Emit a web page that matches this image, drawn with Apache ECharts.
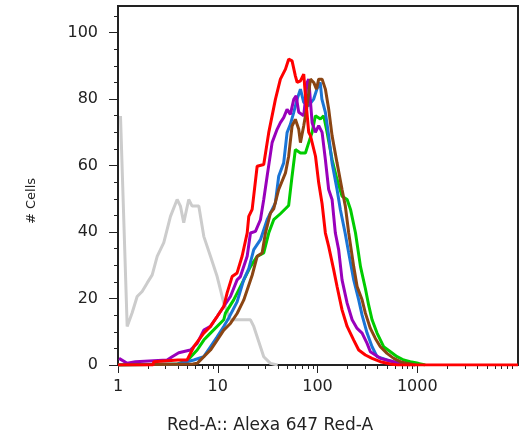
<!DOCTYPE html>
<html><head><meta charset="utf-8">
<script src="https://cdn.jsdelivr.net/npm/echarts@6/dist/echarts.min.js"></script>
<style>html,body{margin:0;padding:0;background:#fff}#c{width:530px;height:439px}</style>
</head><body><div id="c"></div>
<script>
// x values are log10 of fluorescence intensity (decades), y = # Cells
var grayData = [[0.025,74.9],[0.092,11.6],[0.142,15.7],[0.192,20.6],[0.242,22.1],[0.293,24.7],[0.343,27.1],[0.393,32.7],[0.459,36.8],[0.526,44.7],[0.593,49.8],[0.626,47.8],[0.659,42.8],[0.709,49.8],[0.743,47.8],[0.810,47.8],[0.860,38.7],[0.927,32.7],[0.994,26.6],[1.060,18.7],[1.127,13.6],[1.328,13.6],[1.361,11.6],[1.461,2.5],[1.528,0.5],[1.6,0]];
var greenData = [[0,0],[0.6,0.3],[0.7,1.5],[0.794,4.5],[0.860,7.5],[0.927,9.6],[1.060,13.6],[1.077,15.6],[1.160,19.6],[1.227,23.6],[1.328,29.6],[1.395,32.7],[1.461,33.7],[1.511,39.7],[1.561,43.7],[1.628,45.5],[1.711,48],[1.745,56.8],[1.778,64.8],[1.829,63.8],[1.879,63.8],[1.912,66.9],[1.946,70],[1.979,75],[2.029,74],[2.062,75],[2.096,70],[2.146,61.8],[2.196,55.8],[2.246,50.8],[2.297,49.8],[2.331,46.8],[2.381,39.7],[2.431,29.6],[2.480,23],[2.513,18],[2.547,13.6],[2.597,9.6],[2.663,5.5],[2.731,4],[2.798,2.5],[2.864,1.5],[2.930,1],[3.010,0.5],[3.08,0]];
var blueData = [[0,0],[0.6,0.3],[0.760,1.5],[0.860,2.5],[0.927,5.5],[0.994,8.5],[1.060,11.6],[1.107,14],[1.194,19],[1.260,25.6],[1.311,29],[1.361,34.7],[1.428,37.7],[1.495,43.7],[1.578,48.8],[1.611,56.8],[1.661,60.8],[1.695,69.9],[1.728,72.4],[1.762,76],[1.796,80],[1.829,83],[1.862,79],[1.909,78],[1.962,80],[1.994,83],[2.027,85],[2.044,80],[2.079,76],[2.112,69],[2.146,60.8],[2.196,52.8],[2.229,46.8],[2.277,39.7],[2.313,33.7],[2.363,25.6],[2.413,19.6],[2.447,15],[2.497,9.6],[2.547,5.5],[2.597,2.5],[2.697,1.5],[2.760,1],[2.860,0.5],[2.98,0]];
var purpleData = [[0.01,2],[0.025,2],[0.092,0.5],[0.175,1],[0.493,1.5],[0.543,2.5],[0.609,3.7],[0.726,4.5],[0.794,6.5],[0.860,10.5],[0.927,11.6],[0.994,14.6],[1.060,17.6],[1.127,20.6],[1.194,25.6],[1.227,26.6],[1.295,32.7],[1.328,39.7],[1.378,40.2],[1.428,43.7],[1.461,49.8],[1.495,56.8],[1.545,66.9],[1.595,70.9],[1.628,72.9],[1.661,74.4],[1.695,76.9],[1.728,75.4],[1.762,79.9],[1.786,81],[1.812,76],[1.862,75],[1.896,85],[1.912,86],[1.946,72.9],[1.979,70],[2.012,72],[2.046,70],[2.079,61.8],[2.112,52.8],[2.146,49.8],[2.179,39.7],[2.212,34.7],[2.246,25.6],[2.297,18.6],[2.347,13.6],[2.397,11],[2.447,9.6],[2.497,6.5],[2.530,4],[2.580,3],[2.630,2],[2.760,1],[2.830,0.5],[2.93,0]];
var brownData = [[0,0],[0.75,0.3],[0.794,0.5],[0.860,2.5],[0.927,4.5],[0.994,7.5],[1.060,10.5],[1.127,12.5],[1.194,15.5],[1.260,19.5],[1.345,27],[1.395,32.7],[1.445,33.7],[1.478,39.7],[1.528,45.7],[1.561,47],[1.611,52.8],[1.679,57.8],[1.711,62.8],[1.745,71.9],[1.778,73.9],[1.812,70.9],[1.829,66.9],[1.862,72],[1.896,78],[1.929,86],[1.962,85],[1.990,83],[2.012,86],[2.046,86],[2.079,83],[2.112,77],[2.146,69],[2.196,60.8],[2.246,52.8],[2.279,47.8],[2.313,39.7],[2.363,29.6],[2.397,23.6],[2.447,19.6],[2.480,15.6],[2.530,11],[2.580,8],[2.630,5.5],[2.697,3.5],[2.764,2],[2.830,1],[2.897,0.5],[2.98,0]];
var redData = [[0,0],[0.35,0],[0.36,1],[0.6,1.5],[0.693,1.5],[0.760,5.5],[0.860,9.6],[0.927,11.6],[0.994,14.6],[1.060,17.6],[1.094,21.7],[1.144,26.6],[1.194,27.7],[1.244,32.7],[1.295,39.7],[1.311,44.7],[1.345,46.8],[1.395,59.8],[1.461,60.3],[1.511,69.9],[1.578,79.9],[1.628,86],[1.679,89],[1.711,92],[1.745,91.5],[1.778,87],[1.796,85],[1.829,85.5],[1.862,87.5],[1.879,81],[1.912,70],[1.929,69],[1.980,62.8],[2.012,54.8],[2.046,48.5],[2.079,39.7],[2.112,35.7],[2.162,28.7],[2.196,23.6],[2.246,16.6],[2.297,11.6],[2.363,7.5],[2.413,4.5],[2.480,3],[2.547,2],[2.630,1],[2.73,0.3],[2.8,0],[4.01,0]];

var xMajorPos = [0,1,2,3];
var xMajorLabels = ['1','10','100','1000'];
var yLabels = [0,20,40,60,80,100];
var xMinorPos = [];
for (var d = 0; d < 4; d++) for (var k = 2; k <= 9; k++) xMinorPos.push(d + Math.log10(k));
var xMax = 4.01;

var FONT = 'DejaVu Sans';
var chart = echarts.init(document.getElementById('c'), null, {renderer:'canvas'});
function s(data, color){
  return {type:'line', data:data, showSymbol:false, symbol:'none', animation:false,
    lineStyle:{color:color, width:3}, itemStyle:{color:color}, xAxisIndex:0, yAxisIndex:0};
}
chart.setOption({
  animation:false,
  grid:{left:118, right:12, top:6, bottom:74, show:true, borderColor:'#222', borderWidth:2, backgroundColor:'transparent', outerBoundsMode:'none'},
  xAxis:[{
    type:'value', min:0, max:xMax, position:'bottom',
    axisLine:{show:true, onZero:false, lineStyle:{color:'#222', width:2}},
    axisTick:{show:true, length:8, lineStyle:{color:'#222', width:1}, customValues:xMajorPos},
    axisLabel:{show:true, customValues:xMajorPos, margin:14, fontSize:16, fontFamily:FONT, color:'#222',
      formatter:function(v){ var i = xMajorPos.indexOf(Math.round(v)); return i>=0 ? xMajorLabels[i] : ''; }},
    splitLine:{show:false}
  },{
    type:'value', min:0, max:xMax, position:'bottom',
    axisLine:{show:false, onZero:false},
    axisTick:{show:true, length:4, lineStyle:{color:'#222', width:1}, customValues:xMinorPos},
    axisLabel:{show:false},
    splitLine:{show:false}
  }],
  yAxis:{
    type:'value', min:0, max:108, interval:20,
    axisLine:{show:true, lineStyle:{color:'#222', width:2}},
    axisTick:{show:true, length:9, lineStyle:{color:'#222', width:1}, customValues:yLabels},
    minorTick:{show:true, splitNumber:4, length:4, lineStyle:{color:'#222', width:1}},
    axisLabel:{margin:20, fontSize:16, fontFamily:FONT, color:'#222', customValues:yLabels},
    splitLine:{show:false}
  },
  graphic:[
    {type:'text', left:167, top:417, style:{text:'Red-A:: Alexa 647 Red-A', font:'17px "DejaVu Sans"', fill:'#222'}},
    {type:'text', x:25, y:224, rotation:Math.PI/2, style:{text:'# Cells', font:'13px "DejaVu Sans"', fill:'#222', align:'left', verticalAlign:'top'}}
  ],
  series:[
    s(grayData,'#cccccc'),
    s(greenData,'#00cc00'),
    s(blueData,'#1a75d6'),
    s(purpleData,'#9900bb'),
    s(brownData,'#8b4513'),
    s(redData,'#ff0000')
  ]
});
</script></body></html>
